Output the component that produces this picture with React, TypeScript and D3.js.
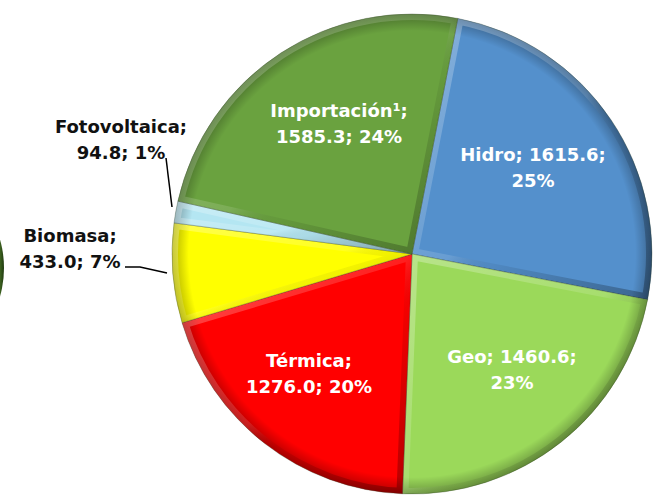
import React from "react";
import * as d3 from "d3";

const categories = ["Hidro", "Geo", "Térmica", "Biomasa", "Fotovoltaica", "Importación¹"];
const values = [1615.6, 1460.6, 1276.0, 433.0, 94.8, 1585.3];
const percents = ["25%", "23%", "20%", "7%", "1%", "24%"];
const colors = ["#5490CC", "#9BD95A", "#FF0000", "#FFFF00", "#B4E6F2", "#6AA23F"];
const labelLines = [
  ["Hidro; 1615.6;", "25%"],
  ["Geo; 1460.6;", "23%"],
  ["Térmica;", "1276.0; 20%"],
  ["Biomasa;", "433.0; 7%"],
  ["Fotovoltaica;", "94.8; 1%"],
  ["Importación¹;", "1585.3; 24%"],
];
const labelColors = ["#fff", "#fff", "#fff", "#111", "#111", "#fff"];

const W = 656, H = 498;
const cx = 412, cy = 254, R = 240;
const startAngle = (11 * Math.PI) / 180;

// label positions (center x, first baseline)
const labelPos: [number, number][] = [
  [533, 161],
  [512, 363],
  [309, 367],
  [70, 242],
  [121, 133],
  [339, 117],
];

export default function App() {
  const pie = d3.pie<number>().sort(null).value((d) => d)
    .startAngle(startAngle).endAngle(startAngle + 2 * Math.PI);
  const arcs = pie(values);
  const arcGen = d3.arc<d3.PieArcDatum<number>>().innerRadius(0).outerRadius(R);
  const leftArc = d3.arc()({ innerRadius: 0, outerRadius: 104, startAngle: 0, endAngle: 2 * Math.PI } as any) as string;

  return (
    <svg width={W} height={H} style={{ position: "absolute", left: 0, top: 0, background: "#fff" }}
      fontFamily="'DejaVu Sans', sans-serif">
      <defs>
        <linearGradient id="bevel" x1="0" y1="0" x2="1" y2="1">
          <stop offset="0" stopColor="#ffffff" stopOpacity={0.3} />
          <stop offset="0.5" stopColor="#ffffff" stopOpacity={0.12} />
          <stop offset="0.6" stopColor="#000000" stopOpacity={0.05} />
          <stop offset="1" stopColor="#000000" stopOpacity={0.3} />
        </linearGradient>
        <radialGradient id="edge" cx="0" cy="0" r={R} gradientUnits="userSpaceOnUse">
          <stop offset="0.93" stopColor="#000" stopOpacity={0} />
          <stop offset="1" stopColor="#000" stopOpacity={0.3} />
        </radialGradient>
        <linearGradient id="leftg" x1="0" y1="0" x2="1" y2="0">
          <stop offset="0.9" stopColor="#ffffff" />
          <stop offset="0.97" stopColor="#4f7a2a" />
          <stop offset="1" stopColor="#1f3a10" />
        </linearGradient>
        {arcs.map((a, i) => (
          <clipPath id={`clip${i}`} key={i}>
            <path d={arcGen(a) as string} />
          </clipPath>
        ))}
      </defs>
      <g transform={`translate(-100,268)`}>
        <path d={leftArc} fill="url(#leftg)" />
      </g>
      <g transform={`translate(${cx},${cy})`}>
        {arcs.map((a, i) => (
          <g key={categories[i]}>
            <path d={arcGen(a) as string} fill={colors[i]} />
            <path d={arcGen(a) as string} fill="url(#edge)" />
            <g clipPath={`url(#clip${i})`}>
              <path d={arcGen(a) as string} fill="none" stroke="url(#bevel)" strokeWidth={12}
                strokeLinejoin="miter" />
            </g>
            <path d={arcGen(a) as string} fill="none" stroke="#2a3a20" strokeOpacity={0.3} strokeWidth={1} />
          </g>
        ))}
      </g>
      {/* leader lines */}
      <polyline points="166,158 172,207" fill="none" stroke="#000" strokeWidth={1.5} />
      <polyline points="125,267 140,267 167,273" fill="none" stroke="#000" strokeWidth={1.5} />
      {labelLines.map((lines, i) => (
        <text key={i} x={labelPos[i][0]} y={labelPos[i][1]} textAnchor="middle" fontSize={18}
          fontWeight="bold" fill={labelColors[i]}>
          {lines.map((l, j) => (
            <tspan key={j} x={labelPos[i][0]} dy={j === 0 ? 0 : 26}>{l}</tspan>
          ))}
        </text>
      ))}
    </svg>
  );
}
